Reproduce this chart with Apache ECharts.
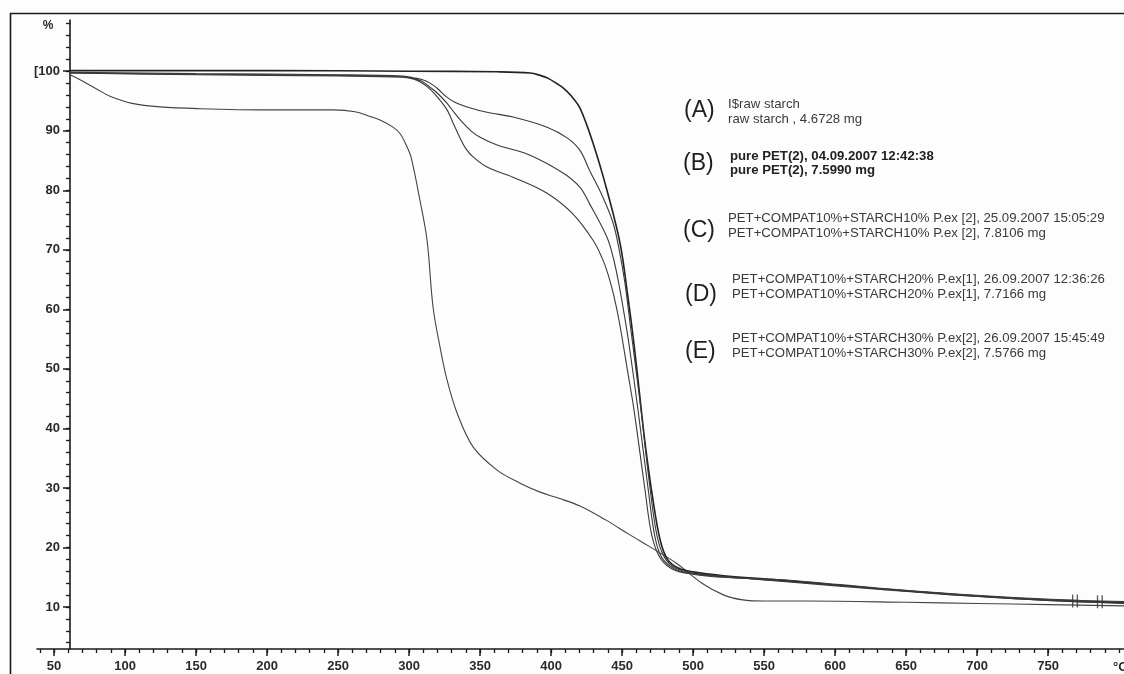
<!DOCTYPE html>
<html>
<head>
<meta charset="utf-8">
<title>TGA curves</title>
<script src="https://cdn.jsdelivr.net/npm/echarts@6/dist/echarts.min.js"></script>
<style>
  html, body { margin: 0; padding: 0; background: #fdfdfd; }
  #chart { width: 1124px; height: 674px; }
</style>
</head>
<body>
<div id="chart"></div>
<script>
// Temperature (°C) / residual mass (%) pairs for each sample
const rawStarch = [
  [61.3, 99.4], [68, 98.6], [80, 97.0], [89.4, 95.8], [105, 94.6], [124.6, 94.0], [152.8, 93.7],
  [200, 93.5], [246.5, 93.5], [262, 93.2], [272.5, 92.4], [279.6, 91.8], [288.7, 90.6],
  [293.7, 89.5], [298, 87.6], [301.5, 85.5], [307.7, 78.3], [312.7, 71.6], [316.9, 60.4],
  [321.8, 53.7], [326.8, 48.1], [333.8, 42.6], [345.1, 36.9], [362, 33.0], [378.2, 30.8],
  [392.3, 29.3], [405, 28.3], [420, 27.0], [438.7, 24.6], [455, 22.2], [469.7, 20.1],
  [488, 17.4], [506.3, 14.0], [521.8, 12.0], [535, 11.2], [550, 11.0], [580, 11.0],
  [650, 10.8], [700, 10.6], [750, 10.4], [803.5, 10.2]
];
const purePET = [
  [61.3, 100.1], [200, 100.1], [300, 100.0], [362, 99.9], [385.2, 99.7], [392.3, 99.3],
  [398, 98.8], [404.2, 97.9], [408.5, 97.2], [414, 95.9], [420.4, 93.8], [429.6, 87.9],
  [439.4, 80.0], [448.6, 71.1], [454.2, 62.0], [458.5, 54.0], [462.7, 45.0], [466.5, 37.0],
  [471.8, 28.0], [476.8, 21.3], [482, 18.0], [490, 16.5], [500, 15.9], [520, 15.3],
  [567.6, 14.4], [629.6, 13.1], [690.8, 12.0], [752, 11.1], [803.5, 10.7]
];
const starch10 = [
  [61.3, 99.8], [150, 99.6], [250, 99.4], [295, 99.2], [302.8, 98.9], [309, 98.6],
  [314.8, 98.0], [320, 97.1], [326.8, 95.6], [333, 94.7], [340.8, 94.0], [354.9, 93.1],
  [373.2, 92.3], [397.2, 90.6], [411.3, 88.8], [420.4, 86.7], [427, 83.4], [436.6, 78.8],
  [443.7, 74.5], [448, 70.0], [452, 64.5], [456, 57.0], [460, 49.5], [463.4, 43.0],
  [469.7, 30.0], [474.6, 22.0], [480, 18.3], [488, 16.5], [500, 15.7], [520, 15.2],
  [567.6, 14.2], [629.6, 13.0], [690.8, 11.9], [752, 11.1], [803.5, 10.6]
];
const starch20 = [
  [61.3, 99.7], [150, 99.5], [250, 99.3], [295, 99.1], [302.8, 98.8], [309, 98.3],
  [314.8, 97.3], [320, 96.3], [326.8, 94.6], [332, 93.0], [338, 91.3], [344, 89.9],
  [350, 88.9], [362, 87.6], [385.2, 85.9], [408.5, 82.9], [420.4, 80.5], [427, 77.8],
  [439.4, 72.1], [444, 68.5], [448, 64.0], [452, 58.5], [455, 54.0], [461.3, 43.0],
  [468.3, 30.0], [473, 22.0], [478, 18.3], [487, 16.4], [500, 15.6], [520, 15.1],
  [567.6, 14.3], [629.6, 13.1], [690.8, 12.0], [752, 11.2], [803.5, 10.8]
];
const starch30 = [
  [61.3, 99.7], [150, 99.4], [250, 99.2], [295, 99.0], [302.8, 98.7], [308, 98.2],
  [312.7, 97.4], [318, 96.2], [326.8, 93.5], [331, 91.3], [335.9, 88.8], [340, 87.0],
  [345.1, 85.6], [354.9, 83.9], [373.2, 82.2], [397.2, 79.5], [415.5, 76.0], [429.6, 71.6],
  [436, 68.6], [440, 66.0], [444, 62.5], [448, 58.0], [454, 49.5], [458.5, 43.0],
  [466, 30.0], [471, 22.0], [477, 18.2], [486, 16.3], [500, 15.5], [520, 15.0],
  [567.6, 14.5], [629.6, 13.2], [690.8, 12.1], [752, 11.3], [803.5, 10.9]
];
// Instrument end markers near the right edge
const endMarks = [[769, 11.0], [786.5, 10.9]];

// Axis ticks and labels
const xMinorTicks = [];
for (let t = 40; t <= 800; t += 10) xMinorTicks.push(t);
const xMajorTicks = [50, 100, 150, 200, 250, 300, 350, 400, 450, 500, 550, 600, 650, 700, 750];
const yMinorTicks = [];
for (let w = 4; w <= 108; w += 2) yMinorTicks.push(w);
const yMajorTicks = [10, 20, 30, 40, 50, 60, 70, 80, 90, 100];

const legendRows = [
  { tag: '(A)', lines: ['I$raw starch', 'raw starch , 4.6728 mg'], bold: false },
  { tag: '(B)', lines: ['pure PET(2), 04.09.2007 12:42:38', 'pure PET(2), 7.5990 mg'], bold: true },
  { tag: '(C)', lines: ['PET+COMPAT10%+STARCH10% P.ex [2], 25.09.2007 15:05:29', 'PET+COMPAT10%+STARCH10% P.ex [2], 7.8106 mg'], bold: false },
  { tag: '(D)', lines: ['PET+COMPAT10%+STARCH20% P.ex[1], 26.09.2007 12:36:26', 'PET+COMPAT10%+STARCH20% P.ex[1], 7.7166 mg'], bold: false },
  { tag: '(E)', lines: ['PET+COMPAT10%+STARCH30% P.ex[2], 26.09.2007 15:45:49', 'PET+COMPAT10%+STARCH30% P.ex[2], 7.5766 mg'], bold: false }
];

const FONT = '"Liberation Sans", Arial, sans-serif';
const INK = '#2a2a2a';
const X_MIN = 38, X_MAX = 803.5, Y_MIN = 2.95, Y_MAX = 108.6;

const chart = echarts.init(document.getElementById('chart'), null, { renderer: 'canvas' });

function lineSeries(name, data, width, color) {
  return {
    name, type: 'line', data, showSymbol: false, symbol: 'none',
    smooth: 0.35,
    lineStyle: { width, color }, z: 3, silent: true
  };
}

// Annotation block on the right
const legendLayout = [
  { tagX: 684, tagY: 111, textX: 728, y1: 104, y2: 119 },
  { tagX: 683, tagY: 164, textX: 730, y1: 156, y2: 170 },
  { tagX: 683, tagY: 231, textX: 728, y1: 218, y2: 233 },
  { tagX: 685, tagY: 295, textX: 732, y1: 279, y2: 294 },
  { tagX: 685, tagY: 352, textX: 732, y1: 338, y2: 353 }
];
const graphics = [
  { type: 'rect', shape: { x: 10.5, y: 13.5, width: 1300, height: 800 },
    style: { fill: null, stroke: '#1a1a1a', lineWidth: 1.6 }, z: 10 },
  { type: 'text', x: 48, y: 26, style: { text: '%', font: 'bold 12px ' + FONT, fill: INK,
    textAlign: 'center', textVerticalAlign: 'middle' } },
  { type: 'text', x: 1113, y: 667, style: { text: '°C', font: 'bold 13px ' + FONT, fill: INK,
    textAlign: 'left', textVerticalAlign: 'middle' } }
];
legendRows.forEach((row, i) => {
  const p = legendLayout[i];
  graphics.push({ type: 'text', x: p.tagX, y: p.tagY, style: { text: row.tag,
    font: '23px ' + FONT, fill: '#1e1e1e', textAlign: 'left', textVerticalAlign: 'middle' } });
  const f = (row.bold ? 'bold ' : '') + '13.2px ' + FONT;
  graphics.push({ type: 'text', x: p.textX, y: p.y1, style: { text: row.lines[0], font: f,
    fill: row.bold ? '#222' : '#3a3a3a', textAlign: 'left', textVerticalAlign: 'middle' } });
  graphics.push({ type: 'text', x: p.textX, y: p.y2, style: { text: row.lines[1], font: f,
    fill: row.bold ? '#222' : '#3a3a3a', textAlign: 'left', textVerticalAlign: 'middle' } });
});

const axisLineStyle = { color: '#1a1a1a', width: 1.6 };

chart.setOption({
  animation: false,
  backgroundColor: '#fdfdfd',
  grid: { left: 37, right: 0, top: 20, bottom: 25, containLabel: false },
  xAxis: [
    { type: 'value', min: X_MIN, max: X_MAX, position: 'bottom',
      axisLine: { show: true, lineStyle: axisLineStyle },
      axisTick: { show: true, length: 4, customValues: xMinorTicks, lineStyle: { color: '#1a1a1a', width: 1.3 } },
      axisLabel: { show: false }, splitLine: { show: false } },
    { type: 'value', min: X_MIN, max: X_MAX, position: 'bottom',
      axisLine: { show: false },
      axisTick: { show: true, length: 7, customValues: xMajorTicks, lineStyle: { color: '#1a1a1a', width: 1.5 } },
      axisLabel: { show: true, customValues: xMajorTicks, margin: 11, color: INK,
        fontFamily: FONT, fontWeight: 'bold', fontSize: 13 },
      splitLine: { show: false } }
  ],
  yAxis: [
    { type: 'value', min: Y_MIN, max: Y_MAX, position: 'left', offset: -33,
      axisLine: { show: true, lineStyle: axisLineStyle },
      axisTick: { show: true, length: 4, customValues: yMinorTicks, lineStyle: { color: '#1a1a1a', width: 1.3 } },
      axisLabel: { show: false }, splitLine: { show: false } },
    { type: 'value', min: Y_MIN, max: Y_MAX, position: 'left', offset: -33,
      axisLine: { show: false },
      axisTick: { show: true, length: 7, customValues: yMajorTicks, lineStyle: { color: '#1a1a1a', width: 1.5 } },
      axisLabel: { show: true, customValues: yMajorTicks, margin: 10, color: INK,
        fontFamily: FONT, fontWeight: 'bold', fontSize: 13,
        formatter: v => (v === 100 ? '[100' : String(v)) },
      splitLine: { show: false } }
  ],
  series: [
    lineSeries('raw starch', rawStarch, 1.1, '#444'),
    lineSeries('pure PET', purePET, 1.6, '#222'),
    lineSeries('STARCH10%', starch10, 1.1, '#3a3a3a'),
    lineSeries('STARCH20%', starch20, 1.1, '#3a3a3a'),
    lineSeries('STARCH30%', starch30, 1.1, '#3a3a3a'),
    { name: 'marks', type: 'scatter', data: endMarks, silent: true, z: 4,
      symbol: 'path://M0,0h1v12h-1zM3.5,0h1v12h-1z', symbolSize: [6, 13],
      itemStyle: { color: '#333' } }
  ],
  graphic: graphics
});
</script>
</body>
</html>
